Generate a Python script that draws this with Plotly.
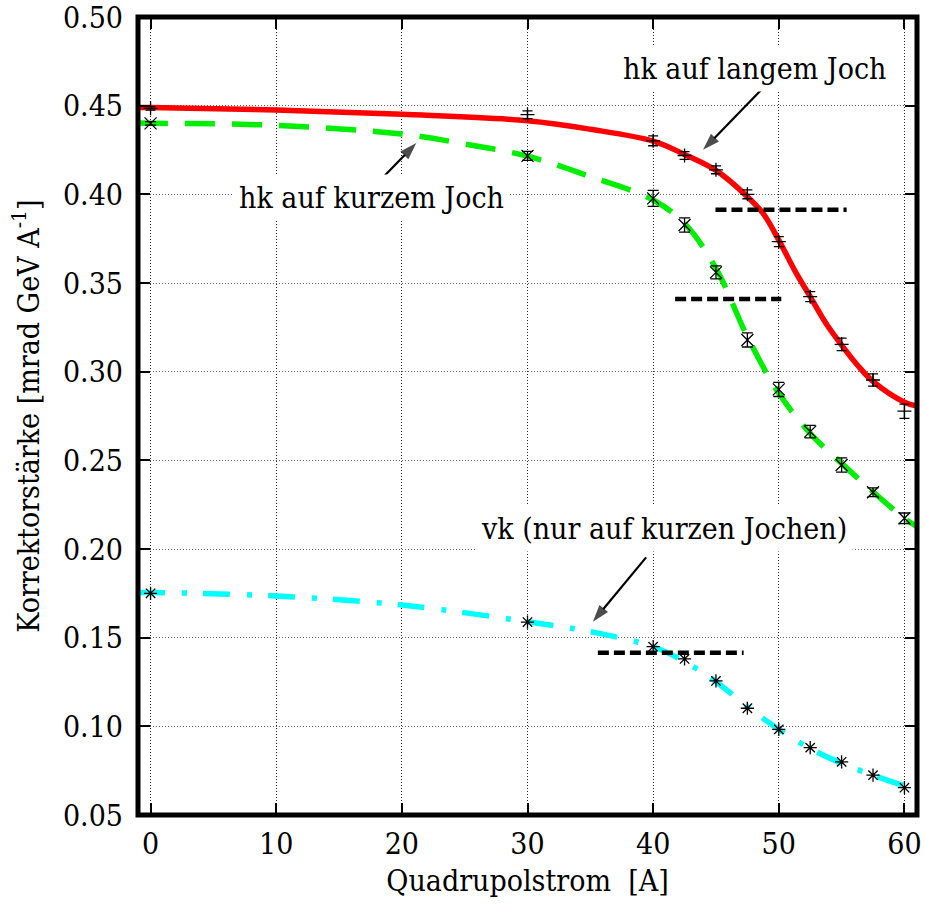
import plotly.graph_objects as go

# Quadrupole current [A] at which the corrector strengths were measured
current = [0, 30, 40, 42.5, 45, 47.5, 50, 52.5, 55, 57.5, 60]

# hk on long yoke
hk_long = [0.4485, 0.4449, 0.4302, 0.4219, 0.4138, 0.4000, 0.3733, 0.3423, 0.3154, 0.2953, 0.2777]
hk_long_err = [0.0010, 0.0022, 0.0028, 0.0022, 0.0022, 0.0025, 0.0028, 0.0028, 0.0035, 0.0034, 0.0040]

# hk on short yoke
hk_short = [0.4400, 0.4217, 0.3977, 0.3827, 0.3560, 0.3179, 0.2900, 0.2662, 0.2474, 0.2320, 0.2173]
hk_short_err = [0.0010, 0.0025, 0.0045, 0.0040, 0.0037, 0.0040, 0.0040, 0.0035, 0.0040, 0.0025, 0.0030]

# vk (short yokes only)
vk_short = [0.1750, 0.1588, 0.1449, 0.1380, 0.1256, 0.1102, 0.0983, 0.0880, 0.0800, 0.0725, 0.0654]

# Fitted curves
fit_long_x = [-1, 0, 10, 20, 30, 35, 40, 42.5, 45, 47.5, 48.75, 50, 51.25, 52.5, 53.75, 55, 56.25, 57.5, 60, 61]
fit_long_y = [0.4490, 0.4489, 0.4476, 0.4451, 0.4415, 0.4367, 0.4300, 0.4225, 0.4135, 0.3987, 0.3893,
              0.3742, 0.3573, 0.3423, 0.3273, 0.3150, 0.3038, 0.2945, 0.2828, 0.2806]
fit_short_x = [-1, 0, 10, 20, 25, 30, 35, 40, 42.5, 45, 47.5, 50, 52.5, 55, 57.5, 60, 61]
fit_short_y = [0.4402, 0.4401, 0.4389, 0.4340, 0.4284, 0.4215, 0.4100, 0.3968, 0.3836, 0.3583, 0.3197,
               0.2878, 0.2652, 0.2483, 0.2323, 0.2173, 0.2126]
fit_vk_x = [-1, 0, 10, 20, 30, 35, 40, 42.5, 45, 47.5, 50, 52.5, 55, 57.5, 60, 61]
fit_vk_y = [0.1755, 0.1755, 0.1735, 0.1684, 0.1590, 0.1534, 0.1449, 0.1365, 0.1252, 0.1110, 0.0983,
            0.0875, 0.0791, 0.0725, 0.0666, 0.0655]

# Horizontal reference levels (black dashed)
ref_x0 = [44.96, 41.75, 35.6]
ref_x1 = [55.4, 50.2, 47.2]
ref_y = [0.3913, 0.3410, 0.1415]

# Labels with arrows: text position, arrow tail, arrow head
labels = ["hk auf langem Joch", "hk auf kurzem Joch", "vk (nur auf kurzen Jochen)"]
label_x = [48.1, 17.6, 40.9]
label_y = [0.4712, 0.3984, 0.2113]
arrow_tail_x = [48.63, 17.98, 39.44]
arrow_tail_y = [0.4591, 0.4058, 0.1953]
arrow_head_x = [43.97, 21.15, 35.2]
arrow_head_y = [0.4251, 0.4289, 0.1590]

# Axis ticks
x_ticks = [0, 10, 20, 30, 40, 50, 60]
y_ticks = [0.05, 0.10, 0.15, 0.20, 0.25, 0.30, 0.35, 0.40, 0.45, 0.50]
y_ticktext = ["0.05", "0.10", "0.15", "0.20", "0.25", "0.30", "0.35", "0.40", "0.45", "0.50"]

FONT = "DejaVu Serif Condensed, DejaVu Serif"
FS = 30

fig = go.Figure()

fig.add_trace(go.Scatter(x=fit_long_x, y=fit_long_y, mode="lines", line_shape="spline",
                         line=dict(color="#ff0000", width=5.5), showlegend=False))
fig.add_trace(go.Scatter(x=fit_short_x, y=fit_short_y, mode="lines", line_shape="spline",
                         line=dict(color="#00ee00", width=5.5, dash="30px,17px"), showlegend=False))
fig.add_trace(go.Scatter(x=fit_vk_x, y=fit_vk_y, mode="lines", line_shape="spline",
                         line=dict(color="#00ffff", width=5.5, dash="27px,17px,5px,16px"), showlegend=False))

for x0, x1, y in zip(ref_x0, ref_x1, ref_y):
    fig.add_trace(go.Scatter(x=[x0, x1], y=[y, y], mode="lines",
                             line=dict(color="black", width=4.5, dash="11px,5px"), showlegend=False))

fig.add_trace(go.Scatter(x=current, y=hk_long, mode="markers",
                         marker=dict(symbol="cross-thin", size=10, color="black",
                                     line=dict(color="black", width=1.3)),
                         error_y=dict(type="data", array=hk_long_err, color="black", thickness=1.3, width=5),
                         showlegend=False))
fig.add_trace(go.Scatter(x=current, y=hk_short, mode="markers",
                         marker=dict(symbol="x-thin", size=12, color="black",
                                     line=dict(color="black", width=1.3)),
                         error_y=dict(type="data", array=hk_short_err, color="black", thickness=1.3, width=5.5),
                         showlegend=False))
fig.add_trace(go.Scatter(x=current, y=vk_short, mode="markers",
                         marker=dict(symbol="asterisk", size=11, color="black",
                                     line=dict(color="black", width=1.3)),
                         showlegend=False))

# Pointer arrows: shaft from tail to head, arrowhead oriented along the shaft
for tx, ty, hx, hy in zip(arrow_tail_x, arrow_tail_y, arrow_head_x, arrow_head_y):
    fig.add_trace(go.Scatter(x=[tx, hx], y=[ty, hy], mode="lines+markers",
                             line=dict(color="black", width=2.2),
                             marker=dict(symbol=["circle", "arrow"], size=[0, 18], color="black",
                                         angleref="previous", line=dict(width=0)),
                             cliponaxis=False, showlegend=False))

annotations = []
for t, lx, ly in zip(labels, label_x, label_y):
    annotations.append(dict(x=lx, y=ly, xref="x", yref="y", text=t, showarrow=False,
                            xanchor="center", yanchor="middle", bgcolor="white", borderpad=5,
                            font=dict(family=FONT, size=FS, color="black")))

fig.update_layout(
    width=925, height=913,
    margin=dict(l=138, r=8, t=17, b=98),
    paper_bgcolor="white", plot_bgcolor="white",
    font=dict(family=FONT, size=FS, color="black"),
    annotations=annotations,
    shapes=[dict(type="rect", xref="paper", yref="paper", x0=0, x1=1, y0=0, y1=1,
                 line=dict(color="black", width=5), layer="above")],
)

fig.update_xaxes(
    range=[-1, 61], tickvals=x_ticks, automargin=False,
    ticks="inside", ticklen=12, tickwidth=1.5, tickcolor="black",
    showline=True, linewidth=1, linecolor="black", mirror="ticks",
    showgrid=True, gridcolor="#222", gridwidth=1, griddash="1px,2px",
    zeroline=False, ticklabelstandoff=2, ticklabeloverflow="allow",
    tickfont=dict(family=FONT, size=FS),
    title=dict(text="Quadrupolstrom\u00a0 [A]", font=dict(family=FONT, size=FS), standoff=9),
)
fig.update_yaxes(
    range=[0.05, 0.50], tickvals=y_ticks, ticktext=y_ticktext, automargin=False,
    ticks="inside", ticklen=12, tickwidth=1.5, tickcolor="black",
    showline=True, linewidth=1, linecolor="black", mirror="ticks",
    showgrid=True, gridcolor="#666", gridwidth=1, griddash="1px,2px",
    zeroline=False, ticklabelstandoff=8, ticklabeloverflow="allow",
    tickfont=dict(family=FONT, size=FS),
    title=dict(text="Korrektorstärke [mrad GeV A<sup>-1</sup>]", font=dict(family=FONT, size=FS), standoff=14),
)

fig.write_html("out.html")
